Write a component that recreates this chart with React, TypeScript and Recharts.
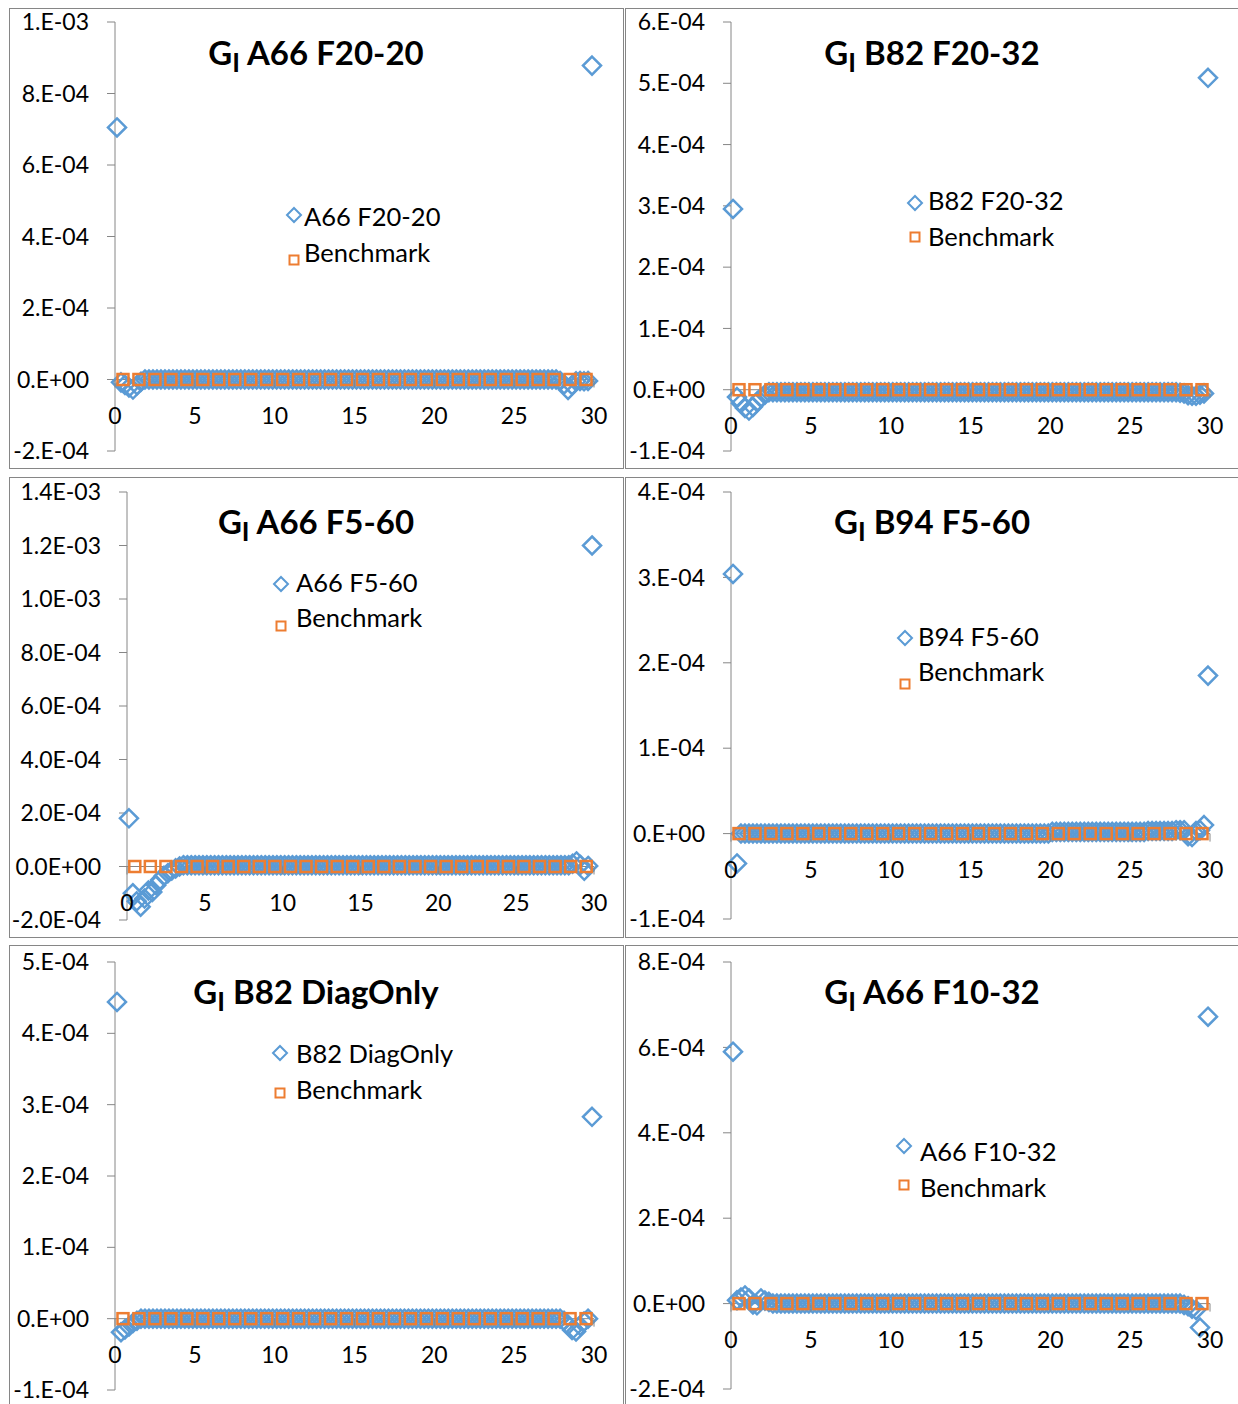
import React from 'react';
import { ScatterChart, Scatter, XAxis, YAxis, ReferenceLine, Legend } from 'recharts';

const FONT = 'Lato, "Open Sans", sans-serif';
const BLUE = '#5B9BD5';
const ORANGE = '#ED7D31';
const AXIS = '#868686';

// x positions of the case series (shared by every panel)
const X_GRID = [
  0.125, 0.375, 0.625, 0.875, 1.125, 1.375, 1.625, 1.875,
  2.125, 2.375, 2.625, 2.875, 3.125, 3.375, 3.625, 3.875,
  4.125, 4.375, 4.625, 4.875, 5.125, 5.375, 5.625, 5.875,
  6.125, 6.375, 6.625, 6.875, 7.125, 7.375, 7.625, 7.875,
  8.125, 8.375, 8.625, 8.875, 9.125, 9.375, 9.625, 9.875,
  10.125, 10.375, 10.625, 10.875, 11.125, 11.375, 11.625, 11.875,
  12.125, 12.375, 12.625, 12.875, 13.125, 13.375, 13.625, 13.875,
  14.125, 14.375, 14.625, 14.875, 15.125, 15.375, 15.625, 15.875,
  16.125, 16.375, 16.625, 16.875, 17.125, 17.375, 17.625, 17.875,
  18.125, 18.375, 18.625, 18.875, 19.125, 19.375, 19.625, 19.875,
  20.125, 20.375, 20.625, 20.875, 21.125, 21.375, 21.625, 21.875,
  22.125, 22.375, 22.625, 22.875, 23.125, 23.375, 23.625, 23.875,
  24.125, 24.375, 24.625, 24.875, 25.125, 25.375, 25.625, 25.875,
  26.125, 26.375, 26.625, 26.875, 27.125, 27.375, 27.625, 27.875,
  28.125, 28.375, 28.625, 28.875, 29.125, 29.375, 29.625, 29.875,
];

// benchmark series
const BENCH_X = [
  0.5, 1.5, 2.5, 3.5, 4.5, 5.5, 6.5, 7.5, 8.5, 9.5,
  10.5, 11.5, 12.5, 13.5, 14.5, 15.5, 16.5, 17.5, 18.5, 19.5,
  20.5, 21.5, 22.5, 23.5, 24.5, 25.5, 26.5, 27.5, 28.5, 29.5,
];
const BENCH_Y = [
  0, 0, 0, 0, 0, 0, 0, 0, 0, 0,
  0, 0, 0, 0, 0, 0, 0, 0, 0, 0,
  0, 0, 0, 0, 0, 0, 0, 0, 0, 0,
];

const X_TICKS = [0, 5, 10, 15, 20, 25, 30];

const A66_F20_20 = [
  7.05e-4, -8e-6, -1.5e-5, -2.2e-5, -2.8e-5, -1.6e-5, -6e-6, 0,
  0, 0, 0, 0, 0, 0, 0, 0,
  0, 0, 0, 0, 0, 0, 0, 0,
  0, 0, 0, 0, 0, 0, 0, 0,
  0, 0, 0, 0, 0, 0, 0, 0,
  0, 0, 0, 0, 0, 0, 0, 0,
  0, 0, 0, 0, 0, 0, 0, 0,
  0, 0, 0, 0, 0, 0, 0, 0,
  0, 0, 0, 0, 0, 0, 0, 0,
  0, 0, 0, 0, 0, 0, 0, 0,
  0, 0, 0, 0, 0, 0, 0, 0,
  0, 0, 0, 0, 0, 0, 0, 0,
  0, 0, 0, 0, 0, 0, 0, 0,
  0, 0, 0, 0, 0, 0, 0, -4e-6,
  -1.4e-5, -2.9e-5, -1.6e-5, -5e-6, -4e-6, -5e-6, -4e-6, 8.78e-4,
];

const B82_F20_32 = [
  2.95e-4, -1.2e-5, -2.2e-5, -3e-5, -3.4e-5, -2.8e-5, -2e-5, -1.3e-5,
  -8e-6, -4e-6, -4e-6, -4e-6, -4e-6, -4e-6, -4e-6, -4e-6,
  -4e-6, -4e-6, -4e-6, -4e-6, -4e-6, -4e-6, -4e-6, -4e-6,
  -4e-6, -4e-6, -4e-6, -4e-6, -4e-6, -4e-6, -4e-6, -4e-6,
  -4e-6, -4e-6, -4e-6, -4e-6, -4e-6, -4e-6, -4e-6, -4e-6,
  -4e-6, -4e-6, -4e-6, -4e-6, -4e-6, -4e-6, -4e-6, -4e-6,
  -4e-6, -4e-6, -4e-6, -4e-6, -4e-6, -4e-6, -4e-6, -4e-6,
  -4e-6, -4e-6, -4e-6, -4e-6, -4e-6, -4e-6, -4e-6, -4e-6,
  -4e-6, -4e-6, -4e-6, -4e-6, -4e-6, -4e-6, -4e-6, -4e-6,
  -4e-6, -4e-6, -4e-6, -4e-6, -4e-6, -4e-6, -4e-6, -4e-6,
  -4e-6, -4e-6, -4e-6, -4e-6, -4e-6, -4e-6, -4e-6, -4e-6,
  -4e-6, -4e-6, -4e-6, -4e-6, -4e-6, -4e-6, -4e-6, -4e-6,
  -4e-6, -4e-6, -4e-6, -4e-6, -4e-6, -4e-6, -4e-6, -4e-6,
  -4e-6, -4e-6, -4e-6, -4e-6, -4e-6, -4e-6, -4e-6, -4e-6,
  -5e-6, -6e-6, -9e-6, -1e-5, -1e-5, -8e-6, -6e-6, 5.09e-4,
];

const A66_F5_60 = [
  1.8e-4, -1.0e-4, -1.3e-4, -1.5e-4, -1.2e-4, -9e-5, -9.5e-5, -7e-5,
  -5e-5, -3.5e-5, -2.5e-5, -1.5e-5, -7e-6, 0, 5e-6, 5e-6,
  5e-6, 5e-6, 5e-6, 5e-6, 5e-6, 5e-6, 5e-6, 5e-6,
  5e-6, 5e-6, 5e-6, 5e-6, 5e-6, 5e-6, 5e-6, 5e-6,
  5e-6, 5e-6, 5e-6, 5e-6, 5e-6, 5e-6, 5e-6, 5e-6,
  5e-6, 5e-6, 5e-6, 5e-6, 5e-6, 5e-6, 5e-6, 5e-6,
  5e-6, 5e-6, 5e-6, 5e-6, 5e-6, 5e-6, 5e-6, 5e-6,
  5e-6, 5e-6, 5e-6, 5e-6, 5e-6, 5e-6, 5e-6, 5e-6,
  5e-6, 5e-6, 5e-6, 5e-6, 5e-6, 5e-6, 5e-6, 5e-6,
  5e-6, 5e-6, 5e-6, 5e-6, 5e-6, 5e-6, 5e-6, 5e-6,
  5e-6, 5e-6, 5e-6, 5e-6, 5e-6, 5e-6, 5e-6, 5e-6,
  5e-6, 5e-6, 5e-6, 5e-6, 5e-6, 5e-6, 5e-6, 5e-6,
  5e-6, 5e-6, 5e-6, 5e-6, 5e-6, 5e-6, 5e-6, 5e-6,
  5e-6, 5e-6, 5e-6, 5e-6, 5e-6, 5e-6, 5e-6, 5e-6,
  5e-6, 5e-6, 1e-5, 1.9e-5, 6e-6, -1.6e-5, 2e-6, 1.2e-3,
];

const B94_F5_60 = [
  3.04e-4, -3.5e-5, 0, 0, 0, 0, 0, 0,
  0, 0, 0, 0, 0, 0, 0, 0,
  0, 0, 0, 0, 0, 0, 0, 0,
  0, 0, 0, 0, 0, 0, 0, 0,
  0, 0, 0, 0, 0, 0, 0, 0,
  0, 0, 0, 0, 0, 0, 0, 0,
  0, 0, 0, 0, 0, 0, 0, 0,
  0, 0, 0, 0, 0, 0, 0, 0,
  0, 0, 0, 0, 0, 0, 0, 0,
  0, 0, 0, 0, 0, 0, 0, 0,
  2e-6, 2e-6, 2e-6, 2e-6, 2e-6, 2e-6, 2e-6, 2e-6,
  2e-6, 2e-6, 2e-6, 2e-6, 2e-6, 2e-6, 2e-6, 2e-6,
  2e-6, 2e-6, 2e-6, 2e-6, 2e-6, 2e-6, 2e-6, 2e-6,
  3e-6, 3e-6, 3e-6, 3e-6, 3e-6, 3e-6, 3e-6, 4e-6,
  4e-6, 4e-6, -3e-6, -4e-6, 3e-6, 4e-6, 1e-5, 1.85e-4,
];

const B82_DIAGONLY = [
  4.44e-4, -1.9e-5, -1.5e-5, -1.1e-5, -6e-6, -3e-6, 0, 0,
  0, 0, 0, 0, 0, 0, 0, 0,
  0, 0, 0, 0, 0, 0, 0, 0,
  0, 0, 0, 0, 0, 0, 0, 0,
  0, 0, 0, 0, 0, 0, 0, 0,
  0, 0, 0, 0, 0, 0, 0, 0,
  0, 0, 0, 0, 0, 0, 0, 0,
  0, 0, 0, 0, 0, 0, 0, 0,
  0, 0, 0, 0, 0, 0, 0, 0,
  0, 0, 0, 0, 0, 0, 0, 0,
  0, 0, 0, 0, 0, 0, 0, 0,
  0, 0, 0, 0, 0, 0, 0, 0,
  0, 0, 0, 0, 0, 0, 0, 0,
  0, 0, 0, 0, 0, 0, 0, 0,
  -3e-6, -9e-6, -1.6e-5, -1.8e-5, -1e-5, -4e-6, 0, 2.83e-4,
];

const A66_F10_32 = [
  5.9e-4, 8e-6, 1.4e-5, 1.9e-5, 1.2e-5, -2e-6, -4e-6, 1.2e-5,
  7e-6, 4e-6, 0, 0, 0, 0, 0, 0,
  0, 0, 0, 0, 0, 0, 0, 0,
  0, 0, 0, 0, 0, 0, 0, 0,
  0, 0, 0, 0, 0, 0, 0, 0,
  0, 0, 0, 0, 0, 0, 0, 0,
  0, 0, 0, 0, 0, 0, 0, 0,
  0, 0, 0, 0, 0, 0, 0, 0,
  0, 0, 0, 0, 0, 0, 0, 0,
  0, 0, 0, 0, 0, 0, 0, 0,
  0, 0, 0, 0, 0, 0, 0, 0,
  0, 0, 0, 0, 0, 0, 0, 0,
  0, 0, 0, 0, 0, 0, 0, 0,
  0, 0, 0, 0, 0, 0, 0, 0,
  0, -3e-6, -6e-6, -1.2e-5, -1.5e-5, -5.6e-5, null, 6.72e-4,
];

const TICKS_A66_F20_20 = [-0.0002, 0, 0.0002, 0.0004, 0.0006, 0.0008, 0.001];
const TICKS_B82_F20_32 = [-0.0001, 0, 0.0001, 0.0002, 0.0003, 0.0004, 0.0005, 0.0006];
const TICKS_A66_F5_60 = [-0.0002, 0, 0.0002, 0.0004, 0.0006, 0.0008, 0.001, 0.0012, 0.0014];
const TICKS_B94_F5_60 = [-0.0001, 0, 0.0001, 0.0002, 0.0003, 0.0004];
const TICKS_B82_DIAGONLY = [-0.0001, 0, 0.0001, 0.0002, 0.0003, 0.0004, 0.0005];
const TICKS_A66_F10_32 = [-0.0002, 0, 0.0002, 0.0004, 0.0006, 0.0008];

const SERIES_NAMES = ['A66 F20-20', 'B82 F20-32', 'A66 F5-60', 'B94 F5-60', 'B82 DiagOnly', 'A66 F10-32'];
const BENCH_NAME = 'Benchmark';
const TITLE_PREFIX = 'G';
const TITLE_SUB = 'I';

// layout (page coordinates)
const PANELS = [
  {
    name: SERIES_NAMES[0], values: A66_F20_20, ticks: TICKS_A66_F20_20, decimals: 0,
    box: { x: 9, y: 8, w: 615, h: 461 }, plot: { x0: 115, x1: 594, y0: 22, y1: 451 },
    title: { cx: 316, base: 65 }, legend: { mx: 294, tx: 304, d: [215, 216], s: [260, 252] },
  },
  {
    name: SERIES_NAMES[1], values: B82_F20_32, ticks: TICKS_B82_F20_32, decimals: 0,
    box: { x: 625, y: 8, w: 614, h: 461 }, plot: { x0: 731, x1: 1210, y0: 22, y1: 451 },
    title: { cx: 932, base: 65 }, legend: { mx: 915, tx: 928, d: [203, 200], s: [237, 236] },
  },
  {
    name: SERIES_NAMES[2], values: A66_F5_60, ticks: TICKS_A66_F5_60, decimals: 1,
    box: { x: 9, y: 477, w: 615, h: 461 }, plot: { x0: 127, x1: 594, y0: 492, y1: 920 },
    title: { cx: 316, base: 534 }, legend: { mx: 281, tx: 296, d: [584, 582], s: [626, 617] },
  },
  {
    name: SERIES_NAMES[3], values: B94_F5_60, ticks: TICKS_B94_F5_60, decimals: 0,
    box: { x: 625, y: 477, w: 614, h: 461 }, plot: { x0: 731, x1: 1210, y0: 492, y1: 919 },
    title: { cx: 932, base: 534 }, legend: { mx: 905, tx: 918, d: [638, 636], s: [684, 671] },
  },
  {
    name: SERIES_NAMES[4], values: B82_DIAGONLY, ticks: TICKS_B82_DIAGONLY, decimals: 0,
    box: { x: 9, y: 945, w: 615, h: 470 }, plot: { x0: 115, x1: 594, y0: 962, y1: 1390 },
    title: { cx: 316, base: 1004 }, legend: { mx: 280, tx: 296, d: [1053, 1053], s: [1093, 1089] },
  },
  {
    name: SERIES_NAMES[5], values: A66_F10_32, ticks: TICKS_A66_F10_32, decimals: 0,
    box: { x: 625, y: 945, w: 614, h: 470 }, plot: { x0: 731, x1: 1210, y0: 962, y1: 1389 },
    title: { cx: 932, base: 1004 }, legend: { mx: 904, tx: 920, d: [1146, 1151], s: [1185, 1187] },
  },
];

const Y_AXIS_W = 100;
const X_AXIS_H = 2;

const fmt = (d: number) => (v: number) => {
  const s = Number(v).toExponential(d);
  const [m, e] = s.split('e');
  const n = parseInt(e, 10);
  return (d === 0 ? m + '.' : m) + 'E' + (n < 0 ? '-' : '+') + String(Math.abs(n)).padStart(2, '0');
};

const diamondPath = (cx: number, cy: number, r: number) =>
  `M${cx},${cy - r}L${cx + r},${cy}L${cx},${cy + r}L${cx - r},${cy}Z`;

const Diamond = (props: any) => {
  const { cx, cy } = props;
  if (cx == null || cy == null) return <g />;
  return <path d={diamondPath(cx, cy, 9)} fill="none" stroke={BLUE} strokeWidth={2.5} />;
};

const Square = (props: any) => {
  const { cx, cy } = props;
  if (cx == null || cy == null) return <g />;
  return <rect x={cx - 5.5} y={cy - 5.5} width={11} height={11} fill="none" stroke={ORANGE} strokeWidth={2.5} />;
};

const makeXTick = (zeroY: number) => (props: any) => {
  const { x, payload } = props;
  return (
    <g>
      <line x1={x} x2={x} y1={zeroY} y2={zeroY + 8} stroke={AXIS} strokeWidth={1} />
      <text x={x} y={zeroY + 35} textAnchor="middle" dominantBaseline="central" fontSize={23} fontFamily={FONT} fill="#000">
        {payload.value}
      </text>
    </g>
  );
};

const Overlay = ({ p }: { p: any }) => {
  const ox = p.box.x;
  const oy = p.box.y;
  const L = p.legend;
  return (
    <svg width={p.box.w} height={p.box.h} style={{ overflow: 'visible', display: 'block' }}>
      <text
        x={p.title.cx - ox}
        y={p.title.base - oy}
        textAnchor="middle"
        fontFamily={FONT}
        fontWeight="bold"
        fontSize={33}
        fill="#000"
        style={{ whiteSpace: 'pre' }}
      >
        {TITLE_PREFIX}
        <tspan fontSize={26} dy={7}>{TITLE_SUB}</tspan>
        <tspan fontSize={33} dy={-7}>{' ' + p.name}</tspan>
      </text>
      <path d={diamondPath(L.mx - ox, L.d[0] - oy, 7)} fill="none" stroke={BLUE} strokeWidth={2} />
      <text x={L.tx - ox} y={L.d[1] - oy} dominantBaseline="central" fontFamily={FONT} fontSize={25.5} fill="#000">
        {p.name}
      </text>
      <rect x={L.mx - ox - 4.5} y={L.s[0] - oy - 4.5} width={9} height={9} fill="none" stroke={ORANGE} strokeWidth={2} />
      <text x={L.tx - ox} y={L.s[1] - oy} dominantBaseline="central" fontFamily={FONT} fontSize={25.5} fill="#000">
        {BENCH_NAME}
      </text>
    </svg>
  );
};

const Panel = ({ p }: { p: any }) => {
  const { box, plot, ticks } = p;
  const domain = [ticks[0], ticks[ticks.length - 1]];
  const margin = {
    left: plot.x0 - box.x - Y_AXIS_W,
    right: box.x + box.w - plot.x1,
    top: plot.y0 - box.y,
    bottom: box.y + box.h - plot.y1 - X_AXIS_H,
  };
  const zeroY = (plot.y0 - box.y) + (domain[1] / (domain[1] - domain[0])) * (plot.y1 - plot.y0);
  const caseData = X_GRID.map((x, i) => ({ x, y: p.values[i] })).filter((d) => d.y !== null);
  const benchData = BENCH_X.map((x, i) => ({ x, y: BENCH_Y[i] }));
  return (
    <>
      <div
        style={{
          position: 'absolute', left: box.x, top: box.y, width: box.w, height: box.h,
          boxSizing: 'border-box', border: `1px solid ${AXIS}`, background: '#fff',
        }}
      />
      <div style={{ position: 'absolute', left: box.x, top: box.y }}>
        <ScatterChart width={box.w} height={box.h} margin={margin}>
          <XAxis
            type="number"
            dataKey="x"
            domain={[0, 30]}
            ticks={X_TICKS}
            interval={0}
            height={X_AXIS_H}
            axisLine={false}
            tickLine={false}
            tickSize={0}
            tick={makeXTick(zeroY)}
          />
          <YAxis
            type="number"
            dataKey="y"
            domain={domain}
            ticks={ticks}
            interval={0}
            width={Y_AXIS_W}
            tickFormatter={fmt(p.decimals)}
            axisLine={{ stroke: AXIS, strokeWidth: 1 }}
            tickLine={{ stroke: AXIS, strokeWidth: 1 }}
            tickSize={8}
            tickMargin={18}
            tick={{ fill: '#000', fontSize: 23, fontFamily: FONT }}
          />
          <ReferenceLine y={0} stroke={AXIS} strokeWidth={1} />
          <Scatter name={p.name} data={caseData} shape={Diamond} isAnimationActive={false} />
          <Scatter name={BENCH_NAME} data={benchData} shape={Square} isAnimationActive={false} />
          <Legend
            layout="vertical"
            align="center"
            verticalAlign="middle"
            content={() => <Overlay p={p} />}
            wrapperStyle={{ left: 0, top: 0, width: box.w, height: box.h, margin: 0, padding: 0, pointerEvents: 'none' }}
          />
        </ScatterChart>
      </div>
    </>
  );
};

export default function App() {
  return (
    <div style={{ position: 'absolute', left: 0, top: 0, width: 1238, height: 1404, overflow: 'hidden', background: '#fff' }}>
      {PANELS.map((p) => (
        <Panel key={p.name} p={p} />
      ))}
    </div>
  );
}
